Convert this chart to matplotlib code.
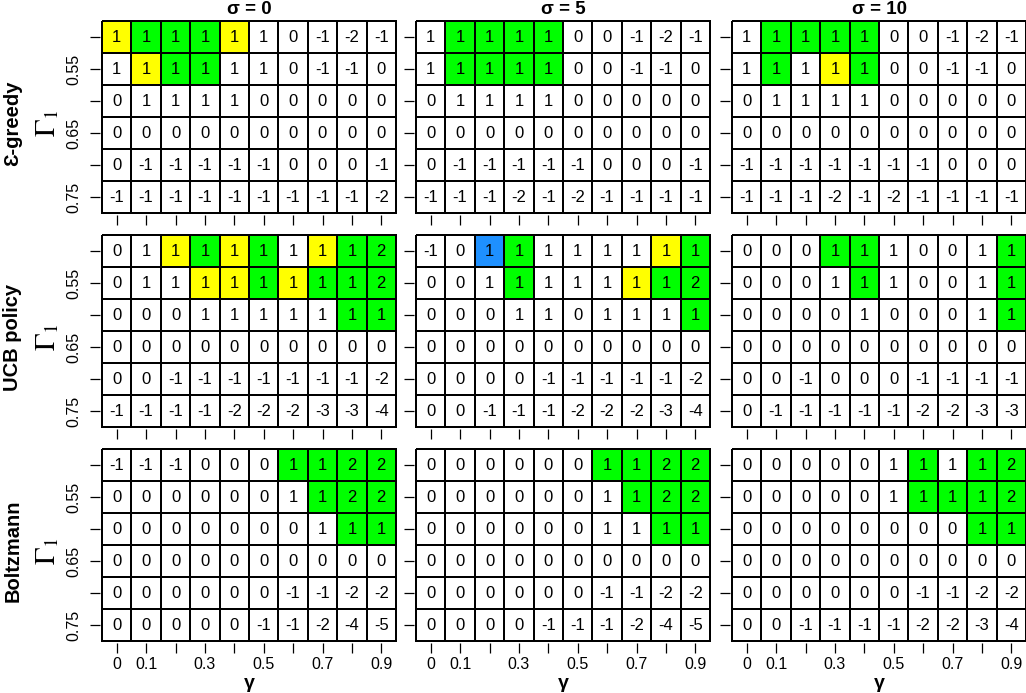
import numpy as np
import matplotlib.pyplot as plt
from matplotlib.colors import ListedColormap

plt.rcParams['font.family'] = ['Liberation Sans', 'DejaVu Sans']
plt.rcParams['mathtext.fontset'] = 'stix'

# axis labels
gamma_labels = ['0', '0.1', '', '0.3', '', '0.5', '', '0.7', '', '0.9']
gamma1_labels = ['', '0.55', '', '0.65', '', '0.75']
sigma_titles = ['σ = 0', 'σ = 5', 'σ = 10']
policies = ['Ɛ-greedy', 'UCB policy', 'Boltzmann']

# cell values (rows: Γ1 = 0.5 .. 0.75, cols: γ = 0 .. 0.9)
eg_s0 = [[1, 1, 1, 1, 1, 1, 0, -1, -2, -1],
         [1, 1, 1, 1, 1, 1, 0, -1, -1, 0],
         [0, 1, 1, 1, 1, 0, 0, 0, 0, 0],
         [0, 0, 0, 0, 0, 0, 0, 0, 0, 0],
         [0, -1, -1, -1, -1, -1, 0, 0, 0, -1],
         [-1, -1, -1, -1, -1, -1, -1, -1, -1, -2]]
eg_s5 = [[1, 1, 1, 1, 1, 0, 0, -1, -2, -1],
         [1, 1, 1, 1, 1, 0, 0, -1, -1, 0],
         [0, 1, 1, 1, 1, 0, 0, 0, 0, 0],
         [0, 0, 0, 0, 0, 0, 0, 0, 0, 0],
         [0, -1, -1, -1, -1, -1, 0, 0, 0, -1],
         [-1, -1, -1, -2, -1, -2, -1, -1, -1, -1]]
eg_s10 = [[1, 1, 1, 1, 1, 0, 0, -1, -2, -1],
          [1, 1, 1, 1, 1, 0, 0, -1, -1, 0],
          [0, 1, 1, 1, 1, 0, 0, 0, 0, 0],
          [0, 0, 0, 0, 0, 0, 0, 0, 0, 0],
          [-1, -1, -1, -1, -1, -1, -1, 0, 0, 0],
          [-1, -1, -1, -2, -1, -2, -1, -1, -1, -1]]
ucb_s0 = [[0, 1, 1, 1, 1, 1, 1, 1, 1, 2],
          [0, 1, 1, 1, 1, 1, 1, 1, 1, 2],
          [0, 0, 0, 1, 1, 1, 1, 1, 1, 1],
          [0, 0, 0, 0, 0, 0, 0, 0, 0, 0],
          [0, 0, -1, -1, -1, -1, -1, -1, -1, -2],
          [-1, -1, -1, -1, -2, -2, -2, -3, -3, -4]]
ucb_s5 = [[-1, 0, 1, 1, 1, 1, 1, 1, 1, 1],
          [0, 0, 1, 1, 1, 1, 1, 1, 1, 2],
          [0, 0, 0, 1, 1, 0, 1, 1, 1, 1],
          [0, 0, 0, 0, 0, 0, 0, 0, 0, 0],
          [0, 0, 0, 0, -1, -1, -1, -1, -1, -2],
          [0, 0, -1, -1, -1, -2, -2, -2, -3, -4]]
ucb_s10 = [[0, 0, 0, 1, 1, 1, 0, 0, 1, 1],
           [0, 0, 0, 1, 1, 1, 0, 0, 1, 1],
           [0, 0, 0, 0, 1, 0, 0, 0, 1, 1],
           [0, 0, 0, 0, 0, 0, 0, 0, 0, 0],
           [0, 0, -1, 0, 0, 0, -1, -1, -1, -1],
           [0, -1, -1, -1, -1, -1, -2, -2, -3, -3]]
bz_s0 = [[-1, -1, -1, 0, 0, 0, 1, 1, 2, 2],
         [0, 0, 0, 0, 0, 0, 1, 1, 2, 2],
         [0, 0, 0, 0, 0, 0, 0, 1, 1, 1],
         [0, 0, 0, 0, 0, 0, 0, 0, 0, 0],
         [0, 0, 0, 0, 0, 0, -1, -1, -2, -2],
         [0, 0, 0, 0, 0, -1, -1, -2, -4, -5]]
bz_s5 = [[0, 0, 0, 0, 0, 0, 1, 1, 2, 2],
         [0, 0, 0, 0, 0, 0, 1, 1, 2, 2],
         [0, 0, 0, 0, 0, 0, 1, 1, 1, 1],
         [0, 0, 0, 0, 0, 0, 0, 0, 0, 0],
         [0, 0, 0, 0, 0, 0, -1, -1, -2, -2],
         [0, 0, 0, 0, -1, -1, -1, -2, -4, -5]]
bz_s10 = [[0, 0, 0, 0, 0, 1, 1, 1, 1, 2],
          [0, 0, 0, 0, 0, 1, 1, 1, 1, 2],
          [0, 0, 0, 0, 0, 0, 0, 0, 1, 1],
          [0, 0, 0, 0, 0, 0, 0, 0, 0, 0],
          [0, 0, 0, 0, 0, 0, -1, -1, -2, -2],
          [0, 0, -1, -1, -1, -1, -2, -2, -3, -4]]

# cell highlight: W white, Y yellow, G green, B blue
eg_s0_fill = ["YGGGYWWWWW", "WYGGWWWWWW", "WWWWWWWWWW", "WWWWWWWWWW", "WWWWWWWWWW", "WWWWWWWWWW"]
eg_s5_fill = ["WGGGGWWWWW", "WGGGGWWWWW", "WWWWWWWWWW", "WWWWWWWWWW", "WWWWWWWWWW", "WWWWWWWWWW"]
eg_s10_fill = ["WGGGGWWWWW", "WGWYGWWWWW", "WWWWWWWWWW", "WWWWWWWWWW", "WWWWWWWWWW", "WWWWWWWWWW"]
ucb_s0_fill = ["WWYGYGWYGG", "WWWYYGYGGG", "WWWWWWWWGG", "WWWWWWWWWW", "WWWWWWWWWW", "WWWWWWWWWW"]
ucb_s5_fill = ["WWBGWWWWYG", "WWWGWWWYGG", "WWWWWWWWWG", "WWWWWWWWWW", "WWWWWWWWWW", "WWWWWWWWWW"]
ucb_s10_fill = ["WWWGGWWWWG", "WWWWGWWWWG", "WWWWWWWWWG", "WWWWWWWWWW", "WWWWWWWWWW", "WWWWWWWWWW"]
bz_s0_fill = ["WWWWWWGGGG", "WWWWWWWGGG", "WWWWWWWWGG", "WWWWWWWWWW", "WWWWWWWWWW", "WWWWWWWWWW"]
bz_s5_fill = ["WWWWWWGGGG", "WWWWWWWGGG", "WWWWWWWWGG", "WWWWWWWWWW", "WWWWWWWWWW", "WWWWWWWWWW"]
bz_s10_fill = ["WWWWWWGWGG", "WWWWWWGGGG", "WWWWWWWWGG", "WWWWWWWWWW", "WWWWWWWWWW", "WWWWWWWWWW"]

values = [[eg_s0, eg_s5, eg_s10],
          [ucb_s0, ucb_s5, ucb_s10],
          [bz_s0, bz_s5, bz_s10]]
fills = [[eg_s0_fill, eg_s5_fill, eg_s10_fill],
         [ucb_s0_fill, ucb_s5_fill, ucb_s10_fill],
         [bz_s0_fill, bz_s5_fill, bz_s10_fill]]

codes = {'W': 0, 'Y': 1, 'G': 2, 'B': 3}
cmap = ListedColormap(['white', '#FFFF00', '#00FF00', '#1E90FF'])

W, H = 1026, 693
col_x = [102, 416, 732]
row_y = [21, 235, 449]
pw, ph = 294, 192

fig = plt.figure(figsize=(W / 100, H / 100), dpi=100)

for r in range(3):
    for c in range(3):
        ax = fig.add_axes([col_x[c] / W, 1 - (row_y[r] + ph) / H, pw / W, ph / H])
        vals = np.array(values[r][c])
        fill = np.array([[codes[ch] for ch in row] for row in fills[r][c]])
        mesh = ax.pcolormesh(np.arange(11) - 0.5, np.arange(7) - 0.5, fill, cmap=cmap,
                             vmin=-0.5, vmax=3.5, edgecolors='black', linewidth=1.1)
        mesh.set_clip_on(False)
        ax.set_xlim(-0.5, 9.5)
        ax.set_ylim(5.5, -0.5)
        for i in range(vals.shape[0]):
            for j in range(vals.shape[1]):
                ax.text(j, i + 0.03, str(vals[i, j]), ha='center', va='center', fontsize=12)

        for s in ax.spines.values():
            s.set_visible(False)
        ax.spines['bottom'].set_position(('outward', 1.5))
        ax.spines['left'].set_position(('outward', 1.5))
        ax.set_xticks(range(10))
        ax.set_yticks(range(6))
        ax.tick_params(direction='out', length=7.2, width=0.9, labelsize=11.5)
        ax.tick_params(axis='x', pad=2.5)
        ax.tick_params(axis='y', pad=6)
        if r == 2:
            ax.set_xticklabels(gamma_labels)
        else:
            ax.set_xticklabels([])
        if c == 0:
            ax.set_yticklabels(gamma1_labels, rotation=90, va='center')
        else:
            ax.set_yticklabels([])

# column titles and x labels
for c in range(3):
    xc = (col_x[c] + pw / 2) / W
    fig.text(xc, 1 - 10 / H, sigma_titles[c], ha='center', va='center',
             fontsize=13.5, fontweight='bold')
    fig.text(xc, 1 - 684 / H, 'γ', ha='center', va='center',
             fontsize=14, fontweight='bold')

# row labels
for r in range(3):
    yc = 1 - (row_y[r] + ph / 2 + 6) / H
    fig.text(13 / W, yc, policies[r], rotation=90, ha='center', va='center',
             fontsize=14.5, fontweight='bold')
    fig.text(47 / W, yc, r'$\Gamma_1$', rotation=90, ha='center', va='center',
             fontsize=21)

fig.savefig('out.png', dpi=100)
